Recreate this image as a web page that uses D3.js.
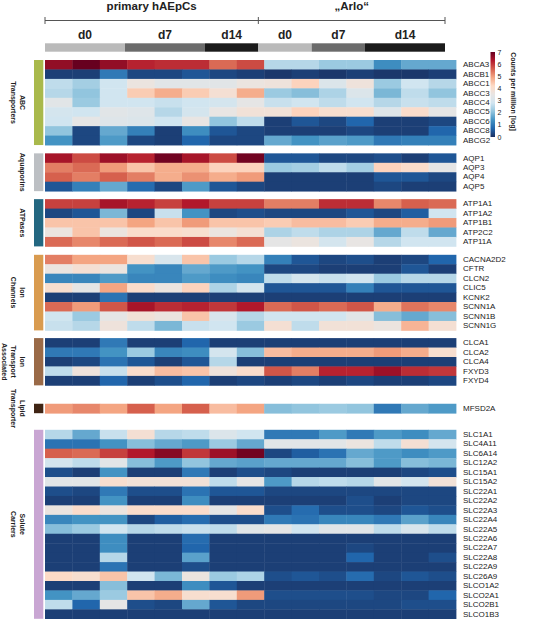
<!DOCTYPE html>
<html>
<head>
<meta charset="utf-8">
<script src="https://cdn.jsdelivr.net/npm/d3@7"></script>
<style>
html,body{margin:0;padding:0;background:#fff;}
svg{display:block;font-family:"Liberation Sans",Arial,sans-serif;}
</style>
</head>
<body>
<svg id="chart" width="534" height="619"></svg>
<script>
// ---------- data ----------
const cellLines = ["primary hAEpCs", "„Arlo“"];
const cellLineColumns = [8, 7];
const dayLabels = ["d0", "d7", "d14", "d0", "d7", "d14"];
const dayReplicates = [3, 3, 2, 2, 2, 3];
const dayShades = ["#bababa", "#6b6b6b", "#1b1b1b", "#bababa", "#6b6b6b", "#1b1b1b"];

const groupNames = [["ABC", "Transporters"], ["Aquaporins"], ["ATPases"], ["Ion", "Channels"],
  ["Ion", "Transport", "Associated"], ["Lipid", "Transporter"], ["Solute", "Carriers"]];
const groupColors = ["#a9b94c", "#bcbfc3", "#236781", "#d99b4f", "#9a6a47", "#3f2414", "#c9a6d3"];

const abcGenes = ["ABCA3","ABCB1","ABCC1","ABCC3","ABCC4","ABCC5","ABCC6","ABCC8","ABCG2"];
const abcValues = [
  [6.6,7.0,6.6,6.2,6.1,6.1,5.5,5.8, 2.5,2.5,2.2,2.2,1.3,1.7,1.7],
  [0.2,0.2,1.0,0.3,0.3,0.5,0.3,0.2, 0.1,0.2,0.1,0.2,0.1,0.1,0.2],
  [2.6,2.3,2.8,3.6,3.3,3.3,3.3,3.6, 3.7,4.3,3.1,3.7,2.2,2.8,2.5],
  [2.5,2.1,2.8,4.4,4.8,4.4,3.9,4.8, 2.2,2.0,2.4,3.1,1.9,2.6,2.1],
  [3.3,2.2,2.8,2.8,2.7,2.8,2.9,3.4, 2.7,2.8,2.6,2.8,2.5,2.7,2.6],
  [2.9,2.8,3.3,3.2,2.5,2.9,3.5,3.8, 3.8,4.3,4.0,4.0,3.2,4.1,3.4],
  [2.8,3.4,3.2,3.1,2.8,3.5,2.1,2.6, 0.2,0.5,0.3,0.7,0.2,0.2,0.3],
  [2.1,0.3,1.7,1.1,0.2,1.3,0.5,0.3, 0.2,0.2,0.2,0.3,0.2,0.2,0.7],
  [1.4,0.3,1.5,0.3,0.2,0.7,0.3,0.3, 1.7,1.4,1.6,1.5,1.0,1.1,1.1]
];
const aquaGenes = ["AQP1","AQP3","AQP4","AQP5"];
const aquaValues = [
  [6.4,5.8,6.5,6.2,6.9,6.4,5.8,6.9, 0.5,0.5,0.3,0.3,0.4,0.2,0.5],
  [5.3,5.5,5.0,4.5,4.8,4.8,4.3,4.3, 2.2,2.3,2.6,2.3,4.3,4.1,3.4],
  [5.6,5.3,5.6,5.3,4.8,5.1,4.8,5.0, 0.2,0.2,0.2,0.2,0.5,0.5,0.3],
  [0.5,1.1,1.7,0.8,0.3,1.5,0.5,0.3, 0.2,0.2,0.2,0.2,0.3,0.2,0.2]
];
const atpGenes = ["ATP1A1","ATP1A2","ATP1B1","ATP2C2","ATP11A"];
const atpValues = [
  [5.9,5.9,6.4,6.2,5.9,6.3,5.9,5.9, 5.3,5.3,6.1,6.1,5.2,5.6,5.5],
  [0.3,0.5,1.9,0.3,2.7,1.4,0.3,0.4, 0.3,0.3,0.3,0.5,0.3,0.6,2.8],
  [4.5,4.5,4.5,4.9,4.5,5.0,4.5,4.5, 4.4,4.6,4.6,4.4,4.8,4.8,5.0],
  [3.6,4.5,3.6,4.1,4.1,4.0,3.6,3.9, 2.4,2.6,2.4,2.4,1.7,2.6,1.7],
  [5.5,5.2,5.5,5.7,5.5,5.8,5.2,5.5, 3.4,3.6,2.9,3.5,2.5,2.8,2.8]
];
const ionGenes = ["CACNA2D2","CFTR","CLCN2","CLIC5","KCNK2","SCNN1A","SCNN1B","SCNN1G"];
const ionValues = [
  [5.3,4.9,4.9,4.0,3.0,4.5,2.2,2.5, 1.1,0.5,0.3,0.4,0.2,0.3,0.7],
  [3.6,3.9,3.6,1.4,1.2,1.7,1.5,1.4, 0.3,0.3,0.2,0.2,0.2,0.5,0.2],
  [1.2,1.2,1.5,1.2,1.2,1.5,1.3,1.2, 2.6,2.9,2.7,2.8,2.2,2.5,2.5],
  [4.0,3.4,4.9,4.1,3.6,4.3,2.4,2.9, 0.5,0.5,0.5,1.1,0.5,0.5,0.5],
  [0.2,0.2,0.9,0.2,0.2,0.2,0.2,0.2, 0.2,0.2,0.2,0.2,0.2,0.2,0.2],
  [5.5,5.0,5.7,6.4,6.1,6.2,6.0,6.3, 5.5,5.7,5.5,5.7,4.8,5.4,5.2],
  [2.8,2.2,3.4,3.8,3.6,4.5,3.0,2.5, 2.8,2.8,2.8,3.3,2.0,1.7,2.0],
  [2.7,2.5,3.7,2.6,1.9,2.7,2.8,2.2, 3.9,2.6,3.8,3.8,3.6,4.7,3.9]
];
const itaGenes = ["CLCA1","CLCA2","CLCA4","FXYD3","FXYD4"];
const itaValues = [
  [0.2,0.2,1.0,0.2,0.2,0.7,0.2,0.2, 0.2,0.2,0.2,0.2,0.2,0.2,0.2],
  [1.0,1.0,1.4,2.2,1.2,1.3,2.9,2.0, 4.6,4.8,4.8,4.8,5.0,4.8,4.0],
  [0.2,0.3,0.9,0.5,0.2,0.5,2.5,0.2, 0.2,0.2,0.2,0.2,0.2,0.2,0.2],
  [2.6,3.7,2.7,4.1,4.6,4.5,3.7,4.1, 5.7,5.3,6.2,6.2,6.5,6.1,6.0],
  [0.2,0.2,0.7,0.2,0.4,0.7,0.2,0.3, 0.2,0.3,0.2,0.3,0.2,0.2,0.3]
];
const lipidGenes = ["MFSD2A"];
const lipidValues = [
  [5.0,5.2,4.9,5.6,4.9,5.6,4.6,4.9, 2.0,2.1,2.2,2.1,1.0,1.7,1.5]
];
const slcGenes = ["SLC1A1","SLC4A11","SLC6A14","SLC12A2","SLC15A1","SLC15A2","SLC22A1","SLC22A2",
  "SLC22A3","SLC22A4","SLC22A5","SLC22A6","SLC22A7","SLC22A8","SLC22A9","SLC26A9","SLCO1A2",
  "SLCO2A1","SLCO2B1","SLCO1B3"];
const slcValues = [
  [2.5,1.7,2.7,3.9,2.5,2.6,3.1,2.8, 1.0,1.0,1.5,1.0,1.5,1.3,1.7],
  [0.9,0.9,1.4,2.0,1.7,1.5,2.2,1.7, 3.3,3.3,3.3,3.6,2.6,3.9,2.9],
  [5.6,5.5,5.9,6.3,6.7,6.0,6.5,6.9, 0.3,0.6,0.9,1.7,1.5,1.3,1.5],
  [2.9,2.6,3.3,2.0,1.5,2.1,1.7,1.6, 1.7,1.7,1.7,2.0,1.5,2.0,1.9],
  [0.4,0.2,1.4,0.2,0.2,1.0,0.2,0.4, 0.3,0.2,0.2,0.2,0.2,0.3,0.4],
  [3.3,3.3,4.0,3.8,3.8,3.8,2.6,3.4, 1.5,2.5,2.6,2.5,3.3,2.9,3.8],
  [0.4,0.3,1.0,0.4,0.4,0.9,0.5,0.5, 0.3,0.3,0.3,0.3,0.3,0.3,0.3],
  [0.2,0.2,1.4,0.2,0.2,1.3,0.2,0.2, 0.2,0.2,0.2,0.4,0.2,0.3,0.3],
  [3.6,4.1,3.6,4.1,4.1,4.1,3.4,4.1, 0.4,0.8,0.4,0.4,0.3,0.5,0.4],
  [1.2,1.4,1.4,0.3,0.6,0.8,0.4,0.4, 1.0,0.9,1.2,1.2,1.0,1.6,1.2],
  [2.0,2.2,2.8,2.5,2.6,2.7,2.6,3.3, 3.4,2.8,3.3,3.3,2.6,3.0,2.6],
  [0.2,0.2,1.3,0.2,0.2,0.8,0.2,0.2, 0.2,0.2,0.2,0.2,0.2,0.2,0.2],
  [0.2,0.2,1.3,0.2,0.2,0.7,0.2,0.2, 0.2,0.2,0.2,0.3,0.2,0.2,0.2],
  [0.2,0.2,2.5,0.2,0.2,1.6,0.2,0.2, 0.2,0.2,0.2,0.7,0.2,0.2,0.4],
  [0.2,0.2,0.9,0.2,0.2,0.4,0.2,0.2, 0.2,0.2,0.2,0.2,0.2,0.2,0.2],
  [4.2,4.0,4.5,2.8,1.9,3.6,2.2,2.4, 0.4,0.5,0.4,0.8,0.3,0.5,0.4],
  [0.2,0.2,2.0,0.2,0.2,1.3,0.5,0.2, 0.2,0.2,0.2,0.2,0.2,0.2,0.2],
  [1.4,1.7,2.2,4.5,4.8,4.0,4.0,5.0, 0.4,0.4,0.4,0.4,0.3,0.3,0.7],
  [2.6,0.7,3.4,0.4,0.3,1.7,0.5,0.3, 0.3,0.3,0.3,0.3,0.3,0.4,0.4],
  [0.2,0.2,0.2,0.2,0.2,0.2,0.2,0.2, 0.2,0.2,0.2,0.2,0.2,0.2,0.2]
];
const legendTicks = [0, 1, 2, 3, 4, 5, 6, 7];
const legendTitle = "Counts per million [log]";

// ---------- layout ----------
const groupGenes = [abcGenes, aquaGenes, atpGenes, ionGenes, itaGenes, lipidGenes, slcGenes];
const groupValues = [abcValues, aquaValues, atpValues, ionValues, itaValues, lipidValues, slcValues];
const groupGaps = [8.3, 8.0, 8.4, 7.7, 18.4, 16.6, 0];
const rowH = 9.45, heatTop = 60;
const nCols = d3.sum(dayReplicates);

const svg = d3.select("#chart");
const x = d3.scaleBand().domain(d3.range(nCols)).range([45, 456]);
const xHead = d3.scaleBand().domain(d3.range(nCols)).range([45, 445]);

const colorStops = ["#1a2f60","#2166ac","#4393c3","#92c5de","#d1e5f0","#e8e5e3","#fddbc7","#f4a582","#d6604d","#b2182b","#67001f"];
const color = d3.scaleLinear()
  .domain(d3.range(11).map(i => i * 0.7))
  .range(colorStops)
  .interpolate(d3.interpolateRgb)
  .clamp(true);

// ---------- header ----------
let colStart = 0;
cellLines.forEach((name, i) => {
  const x0 = xHead(colStart), x1 = xHead(colStart + cellLineColumns[i] - 1) + xHead.bandwidth();
  svg.append("text").attr("x", (x0 + x1) / 2).attr("y", 10)
    .attr("text-anchor", "middle").attr("font-size", 11.5).attr("font-weight", "bold")
    .attr("fill", "#222").text(name);
  colStart += cellLineColumns[i];
});
const bracketY = 20.5;
svg.append("line").attr("x1", xHead(0)).attr("x2", xHead(nCols - 1) + xHead.bandwidth())
  .attr("y1", bracketY).attr("y2", bracketY).attr("stroke", "#555").attr("stroke-width", 1);
[0, cellLineColumns[0], nCols].forEach(c => {
  const xx = c < nCols ? xHead(c) : xHead(nCols - 1) + xHead.bandwidth();
  svg.append("line").attr("x1", xx).attr("x2", xx).attr("y1", bracketY - 3.5).attr("y2", bracketY + 3.5)
    .attr("stroke", "#555").attr("stroke-width", 1);
});
let dStart = 0;
dayLabels.forEach((d, i) => {
  const x0 = xHead(dStart), x1 = xHead(dStart + dayReplicates[i] - 1) + xHead.bandwidth();
  svg.append("text").attr("x", (x0 + x1) / 2).attr("y", 39)
    .attr("text-anchor", "middle").attr("font-size", 12).attr("font-weight", "bold")
    .attr("fill", "#222").text(d);
  svg.append("rect").attr("x", x0).attr("y", 43.3).attr("width", x1 - x0).attr("height", 8.4)
    .attr("fill", dayShades[i]);
  dStart += dayReplicates[i];
});

// ---------- heatmap ----------
let yCursor = heatTop;
groupGenes.forEach((genes, gi) => {
  const y = d3.scaleBand().domain(genes).range([yCursor, yCursor + genes.length * rowH]);
  const g = svg.append("g");
  genes.forEach((gene, ri) => {
    g.selectAll(null).data(groupValues[gi][ri]).enter().append("rect")
      .attr("x", (d, ci) => x(ci)).attr("y", y(gene))
      .attr("width", x.bandwidth() + 0.4).attr("height", y.bandwidth() + 0.4)
      .attr("fill", d => color(d));
    svg.append("text").attr("x", 463).attr("y", y(gene) + y.bandwidth() / 2)
      .attr("dominant-baseline", "central").attr("font-size", 8).attr("fill", "#222").text(gene);
  });
  const top = y.range()[0], bot = y.range()[1];
  // side color bar
  svg.append("rect").attr("x", 34).attr("y", top).attr("width", 9.3).attr("height", bot - top)
    .attr("fill", groupColors[gi]);
  // rotated group label
  const cy = (top + bot) / 2;
  const lbl = svg.append("text").attr("transform", `translate(0,${cy}) rotate(90)`)
    .attr("text-anchor", "middle").attr("font-size", 7).attr("font-weight", "bold").attr("fill", "#222");
  groupNames[gi].forEach((line, li) => {
    lbl.append("tspan").attr("x", 0).attr("y", -22.5 + li * 9)
      .attr("dominant-baseline", "central").text(line);
  });
  yCursor = bot + groupGaps[gi];
});

// ---------- legend ----------
const lgTop = 52, lgBot = 137, lgX = 490.5, lgW = 4.5;
const ly = d3.scaleLinear().domain([0, 7]).range([lgBot, lgTop]);
const defs = svg.append("defs");
const grad = defs.append("linearGradient").attr("id", "lg").attr("x1", 0).attr("x2", 0).attr("y1", 1).attr("y2", 0);
d3.range(0, 7.01, 0.35).forEach(v => {
  grad.append("stop").attr("offset", v / 7).attr("stop-color", color(v));
});
svg.append("rect").attr("x", lgX).attr("y", lgTop).attr("width", lgW).attr("height", lgBot - lgTop)
  .attr("fill", "url(#lg)");
svg.selectAll(null).data(legendTicks).enter().append("text")
  .attr("x", lgX + lgW + 2.5).attr("y", d => ly(d)).attr("dominant-baseline", "central")
  .attr("font-size", 7).attr("fill", "#222").text(d => d);
svg.append("text").attr("transform", `translate(513,${(lgTop + lgBot) / 2 - 3}) rotate(90)`)
  .attr("text-anchor", "middle").attr("dominant-baseline", "central")
  .attr("font-size", 7).attr("font-weight", "bold").attr("fill", "#222").text(legendTitle);
</script>
</body>
</html>
